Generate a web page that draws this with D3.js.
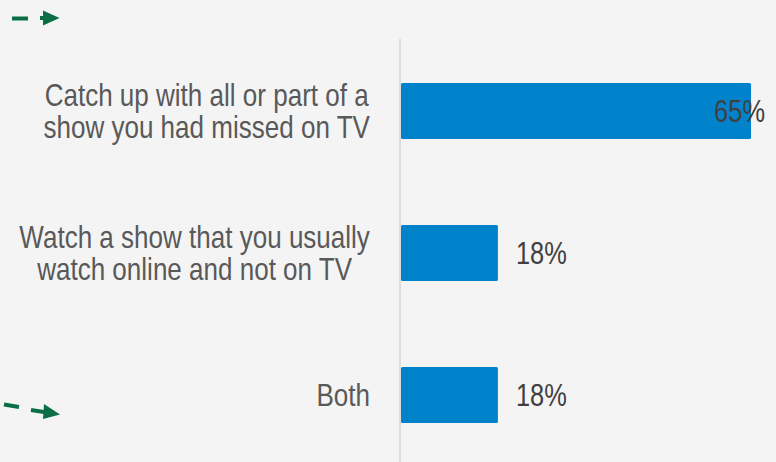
<!DOCTYPE html>
<html>
<head>
<meta charset="utf-8">
<script src="https://cdn.jsdelivr.net/npm/d3@7"></script>
<style>
  html, body { margin: 0; padding: 0; background: #f4f4f4; }
  svg { display: block; }
  text { font-family: "Liberation Sans Narrow", "Arial Narrow", "Liberation Sans", Arial, sans-serif; }
</style>
</head>
<body>
<div id="chart"></div>
<script>
// chart data
var categories = [
  ["Catch up with all or part of a", "show you had missed on TV"],
  ["Watch a show that you usually", "watch online and not on TV"],
  ["Both"]
];
var values = [65, 18, 18];

var width = 776;
var height = 462;

var svg = d3.select("#chart").append("svg")
  .attr("width", width)
  .attr("height", height);

svg.append("rect")
  .attr("width", width)
  .attr("height", height)
  .attr("fill", "#f4f4f4");

var keys = categories.map(function (d, i) { return "c" + i; });

var x = d3.scaleLinear()
  .domain([0, 65])
  .range([401, 751]);

var y = d3.scalePoint()
  .domain(keys)
  .range([111, 395]);

var barH = 56;
var fontSize = 31;
// no narrow font installed, so squeeze regular sans to a narrow look
var squeezeVal = 0.82;
var squeezeCat = 0.84;

// axis line
svg.append("line")
  .attr("x1", 400).attr("x2", 400)
  .attr("y1", 39).attr("y2", height)
  .attr("stroke", "#dcdcdc")
  .attr("stroke-width", 2);

// bars
svg.selectAll(".bar")
  .data(values)
  .enter().append("rect")
  .attr("class", "bar")
  .attr("x", x(0))
  .attr("y", function (d, i) { return y(keys[i]) - barH / 2; })
  .attr("width", function (d) { return x(d) - x(0); })
  .attr("height", barH)
  .attr("rx", 1.5)
  .attr("fill", "#0083cb");

// value labels
svg.selectAll(".val")
  .data(values)
  .enter().append("text")
  .attr("class", "val")
  .attr("font-size", fontSize)
  .attr("fill", "#404040")
  .text(function (d) { return d + "%"; })
  .each(function (d, i) {
    var w = this.getComputedTextLength() * squeezeVal;
    var xs = x(d) + 18;
    if (xs + w > width - 11) xs = width - 11 - w;
    var ys = y(keys[i]) + fontSize * 0.36;
    d3.select(this).attr("transform",
      "translate(" + xs + "," + ys + ") scale(" + squeezeVal + ",1)");
  });

// category labels
var lineH = 32;
var labels = svg.selectAll(".cat")
  .data(categories)
  .enter().append("text")
  .attr("class", "cat")
  .attr("font-size", fontSize)
  .attr("fill", "#595959")
  .attr("text-anchor", "middle");

labels.each(function (lines, i) {
  var t = d3.select(this);
  var cy = y(keys[i]);
  var top = cy - (lines.length - 1) * lineH / 2 + fontSize * 0.36;
  lines.forEach(function (l, j) {
    t.append("tspan").attr("x", 0).attr("y", j * lineH).text(l);
  });
  // centre the block so its widest line ends at x = 370
  var maxW = 0;
  t.selectAll("tspan").each(function () {
    maxW = Math.max(maxW, this.getComputedTextLength());
  });
  var cx = 370 - maxW * squeezeCat / 2;
  t.attr("transform", "translate(" + cx + "," + top + ") scale(" + squeezeCat + ",1)");
});

// decorative green arrows (slide fragments)
var green = "#0b6e46";
var arrows = svg.append("g").attr("fill", green).attr("stroke", green);

arrows.append("line")
  .attr("x1", 12).attr("y1", 18.5).attr("x2", 28).attr("y2", 18.5)
  .attr("stroke-width", 4);
arrows.append("line")
  .attr("x1", 40).attr("y1", 18).attr("x2", 46).attr("y2", 18)
  .attr("stroke-width", 4);
arrows.append("path")
  .attr("stroke", "none")
  .attr("d", "M43,10.5 L59.5,18 L43,25.5 Z");

arrows.append("line")
  .attr("x1", 4).attr("y1", 404.5).attr("x2", 19).attr("y2", 407)
  .attr("stroke-width", 4);
arrows.append("line")
  .attr("x1", 31).attr("y1", 410).attr("x2", 47).attr("y2", 412.5)
  .attr("stroke-width", 4);
arrows.append("path")
  .attr("stroke", "none")
  .attr("d", "M44,404 L60,414.5 L43,419 Z");
</script>
</body>
</html>
